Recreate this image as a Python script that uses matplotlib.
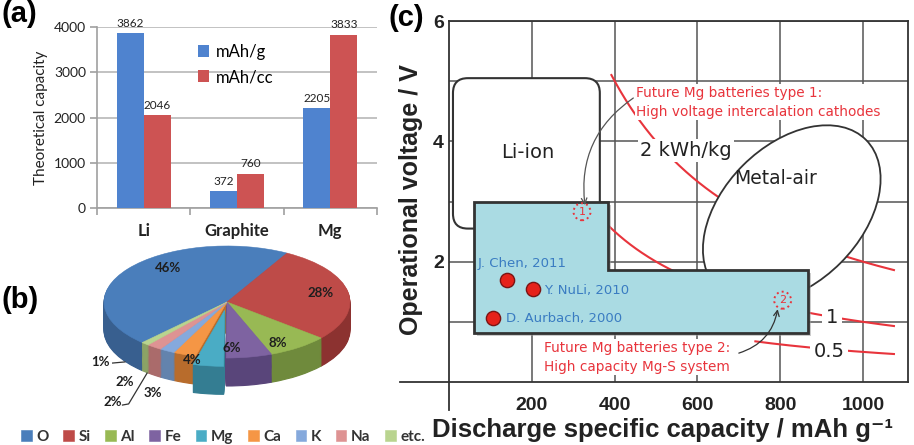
import numpy as np
import matplotlib
matplotlib.use('Agg')
import matplotlib.pyplot as plt
from matplotlib.patches import Polygon, FancyBboxPatch, Ellipse
import matplotlib.transforms as mtransforms

# ---------------- data ----------------
cap_categories = ['Li', 'Graphite', 'Mg']
cap_mAh_g = [3862, 372, 2205]
cap_mAh_cc = [2046, 760, 3833]
cap_yticks = [0, 1000, 2000, 3000, 4000]

crust_elements = ['O', 'Si', 'Al', 'Fe', 'Mg', 'Ca', 'K', 'Na', 'etc.']
crust_pct = [46, 28, 8, 6, 4, 3, 2, 2, 1]

energy_levels = [2, 1, 0.5]          # kWh/kg
energy_labels = ['2 kWh/kg', '1', '0.5']

studies = ['J. Chen, 2011', 'Y. NuLi, 2010', 'D. Aurbach, 2000']
study_capacity = [140, 202, 106]     # mAh/g
study_voltage = [1.69, 1.54, 1.06]   # V

c_xticks = [200, 400, 600, 800, 1000]
c_yticks = [2, 4, 6]

# ---------------- figure ----------------
W, H = 914, 445
fig = plt.figure(figsize=(W / 100, H / 100), dpi=100)
fig.patch.set_facecolor('white')


def px_axes(left, top, right, bottom):
    return fig.add_axes([left / W, 1 - bottom / H, (right - left) / W, (bottom - top) / H])


BOLD = ['Liberation Sans', 'DejaVu Sans']
SOFT = ['Lato', 'DejaVu Sans']

# ================= panel (a) =================
BLUE, RED = '#4f83cf', '#cd5353'
ax_a = px_axes(97, 27, 377, 208)
x = np.arange(len(cap_categories))
w = 0.29
b1 = ax_a.bar(x - w / 2, cap_mAh_g, w, color=BLUE, label='mAh/g', zorder=3)
b2 = ax_a.bar(x + w / 2, cap_mAh_cc, w, color=RED, label='mAh/cc', zorder=3)
ax_a.set_xlim(-0.5, 2.5)
ax_a.set_ylim(0, 4000)
ax_a.set_yticks(cap_yticks)
ax_a.set_yticklabels([str(v) for v in cap_yticks], family=SOFT, fontsize=10, color='#222')
ax_a.grid(axis='y', color='#b8b8b8', lw=1.2, zorder=0)
ax_a.set_axisbelow(True)
for s in ['top', 'right']:
    ax_a.spines[s].set_visible(False)
for s in ['left', 'bottom']:
    ax_a.spines[s].set_color('#a0a0a0')
    ax_a.spines[s].set_linewidth(1.2)
ax_a.set_xticks(x)
ax_a.set_xticklabels(cap_categories, family=SOFT, fontsize=12, fontweight='bold', color='#222')
ax_a.tick_params(axis='x', which='major', length=0, pad=11)
ax_a.set_xticks([-0.5, 0.5, 1.5, 2.5], minor=True)
ax_a.tick_params(axis='x', which='minor', length=5, color='#a0a0a0', width=1.2)
ax_a.tick_params(axis='y', length=5, color='#a0a0a0', width=1.2, pad=3)
ax_a.bar_label(b1, padding=3, fontsize=8.5, family=SOFT, color='#222')
ax_a.bar_label(b2, padding=3, fontsize=8.5, family=SOFT, color='#222')
ax_a.set_ylabel('Theoretical capacity', family=SOFT, fontsize=11, color='#222', labelpad=4)
ax_a.legend(loc='upper left', bbox_to_anchor=(198 / W, 1 - 44 / H), bbox_transform=fig.transFigure,
            frameon=False, prop={'family': SOFT, 'size': 12}, handlelength=0.65, handleheight=0.75,
            handletextpad=0.4, labelspacing=0.55, borderpad=0, borderaxespad=0)
fig.text(19 / W, 1 - 14 / H, '(a)', family=BOLD, fontsize=21, fontweight='bold', ha='center', va='center')

# ================= panel (b) =================
top_colors = ['#4a7ebb', '#be4b48', '#98b954', '#7e63a1', '#4aacc5', '#f59645', '#85a9dc', '#de9393', '#b9d48f']
side_colors = ['#385f8f', '#8c3230', '#6f8a3c', '#59457a', '#347d92', '#b86c2c', '#6383ad', '#aa6b6b', '#8ba366']
explode = [0.15 if e == 'Mg' else 0 for e in crust_elements]
ax_b = px_axes(60, 240, 380, 420)
# O/Si boundary sits at ~60.8 deg; slices run clockwise starting with O
start = 60.8 + 360 * crust_pct[0] / 100
depth = 0.5
for off in np.linspace(depth, 0.02, 30):
    wedges, _ = ax_b.pie(crust_pct, explode=explode, colors=side_colors, startangle=start,
                         counterclock=False, center=(0, -off), radius=1)
    for wd in wedges:
        wd.set_edgecolor(wd.get_facecolor())
        wd.set_linewidth(0.8)
top_wedges, _ = ax_b.pie(crust_pct, explode=explode, colors=top_colors, startangle=start,
                         counterclock=False, center=(0, 0), radius=1)
for wd in top_wedges:
    wd.set_edgecolor(wd.get_facecolor())
    wd.set_linewidth(0.4)
ax_b.set_aspect('auto')
ax_b.set_xlim(-1.358, 1.244)
ax_b.set_ylim(-2.107, 1.107)
ax_b.axis('off')

pct_pos = [(-0.48, 0.61), (0.76, 0.16), (0.41, -0.73), (0.04, -0.82), (-0.28, -1.04),
           (-0.60, -1.63), (-0.83, -1.43), (-0.93, -1.79), (-1.03, -1.07)]
for (px_, py_), v in zip(pct_pos, crust_pct):
    ax_b.text(px_, py_, f'{v}%', family=SOFT, fontsize=9.5, fontweight='bold', color='#1e1e1e',
              ha='center', va='center')
ax_b.plot([-0.93, -0.83], [-1.09, -1.07], color='#333', lw=0.9)
ax_b.plot([-0.85, -0.80, -0.65], [-1.84, -1.82, -1.27], color='#333', lw=0.9)
fig.legend(top_wedges, crust_elements, loc='center', bbox_to_anchor=(223 / W, 1 - 437 / H), ncol=9,
           frameon=False, prop={'family': SOFT, 'size': 11, 'weight': 'bold'}, handlelength=0.7,
           handleheight=0.75, handletextpad=0.3, columnspacing=0.95, borderpad=0, labelcolor='#333')
fig.text(20 / W, 1 - 300 / H, '(b)', family=BOLD, fontsize=21, fontweight='bold', ha='center', va='center')

# ================= panel (c) =================
ax_c = px_axes(449.25, 21, 908, 382)
XMAX = 1109
ax_c.set_xlim(0, XMAX)
ax_c.set_ylim(0, 6)
ax_c.set_xticks(c_xticks)
ax_c.set_xticklabels([str(v) for v in c_xticks], family=BOLD, fontsize=14, fontweight='bold', color='#222')
ax_c.set_yticks(c_yticks)
ax_c.set_yticklabels([str(v) for v in c_yticks], family=BOLD, fontsize=14, fontweight='bold', color='#222')
ax_c.set_yticks([1, 3, 5], minor=True)
ax_c.tick_params(which='both', length=0)
ax_c.tick_params(axis='x', pad=11)
ax_c.tick_params(axis='y', pad=4)
ax_c.grid(which='both', color='#555555', lw=1.1)
ax_c.set_axisbelow(True)
for s in ax_c.spines.values():
    s.set_color('#333')
    s.set_linewidth(1.3)
ax_c.plot([0, 0], [-0.47, 0], color='#333', lw=1.3, clip_on=False)
ax_c.plot([-119, 0], [0, 0], color='#333', lw=1.3, clip_on=False)

RC = '#e8343c'
# energy density curves
curve_start = [392, 385, 740]
for E, c0 in zip(energy_levels, curve_start):
    cc = np.linspace(c0, 1075, 300)
    ax_c.plot(cc, E * 1000 / cc, color=RC, lw=1.5, zorder=1.5)

lab_kw = dict(family=['DejaVu Sans'], color='#222', ha='center', va='center', zorder=3)
ax_c.text(572, 3.85, energy_labels[0], fontsize=14,
          bbox=dict(fc='white', ec='none', pad=1.5), **lab_kw)
ax_c.text(925, 1.08, energy_labels[1], fontsize=14,
          bbox=dict(fc='white', ec='none', pad=2.5), **lab_kw)
ax_c.text(918, 0.5, energy_labels[2], fontsize=14,
          bbox=dict(fc='white', ec='none', pad=2.5), **lab_kw)

# Li-ion box
aspect = (XMAX / 458.75) / (6 / 361)
li = FancyBboxPatch((9, 2.55), 355, 2.5, boxstyle='round,pad=0,rounding_size=36',
                    mutation_aspect=1 / aspect, fc='white', ec='#333', lw=1.5, zorder=2)
ax_c.add_patch(li)
ax_c.text(190, 3.82, 'Li-ion', fontsize=14, **lab_kw)

# Metal-air ellipse (drawn in pixel space around a data-space centre)
ell = Ellipse((0, 0), 210, 138, angle=45, fc='white', ec='#333', lw=1.3, zorder=2.5,
              transform=mtransforms.ScaledTranslation(828, 2.79, ax_c.transData))
ax_c.add_patch(ell)
ax_c.text(790, 3.39, 'Metal-air', fontsize=13.5, **lab_kw)

# Mg region (cyan L-shape)
mg_verts = [(60, 3.0), (383, 3.0), (383, 1.86), (868, 1.86), (868, 0.81), (60, 0.81)]
shadow = Polygon(mg_verts, closed=True, fc='#9a9a9a', ec='none', alpha=0.5, zorder=3.5,
                 transform=mtransforms.offset_copy(ax_c.transData, fig=fig, x=3, y=-3, units='dots'))
ax_c.add_patch(shadow)
ax_c.add_patch(Polygon(mg_verts, closed=True, fc='#aadbe3', ec='#333', lw=2, zorder=4))

# studies
ax_c.scatter(study_capacity, study_voltage, s=105, c='#e5221b', edgecolors='#7a1414', linewidths=1,
             zorder=6)
offsets = [(-21, 12), (8, -1), (9, 0)]
for name, cx, cy, off in zip(studies, study_capacity, study_voltage, offsets):
    ax_c.annotate(name, (cx, cy), xytext=off, textcoords='offset points', family=['DejaVu Sans'],
                  fontsize=9.5, color='#3a7cc2', ha='left', va='center', zorder=6)

# future type markers
for num, cx, cy in [('1', 321, 2.83), ('2', 806, 1.36)]:
    ax_c.add_patch(Ellipse((0, 0), 17, 17, fill=False, ec=RC, ls=':', lw=1.4, zorder=6,
                           transform=mtransforms.ScaledTranslation(cx, cy, ax_c.transData)))
    ax_c.text(cx, cy, num, color=RC, fontsize=8, ha='center', va='center', zorder=6,
              family=['DejaVu Sans'])

ax_c.text(452, 4.65, 'Future Mg batteries type 1:\nHigh voltage intercalation cathodes', color=RC,
          fontsize=9.8, family=['DejaVu Sans'], ha='left', va='center', linespacing=1.45, zorder=3,
          bbox=dict(fc='white', ec='none', pad=1))
ax_c.text(229, 0.415, 'Future Mg batteries type 2:\nHigh capacity Mg-S system', color=RC,
          fontsize=9.8, family=['DejaVu Sans'], ha='left', va='center', linespacing=1.45, zorder=3,
          bbox=dict(fc='white', ec='none', pad=1))
ax_c.annotate('', xy=(328, 2.94), xytext=(445, 4.72),
              arrowprops=dict(arrowstyle='->', color='#555', lw=0.9, shrinkA=0, shrinkB=0,
                              connectionstyle='arc3,rad=0.3'), zorder=7)
ax_c.annotate('', xy=(794, 1.21), xytext=(700, 0.48),
              arrowprops=dict(arrowstyle='->', color='#333', lw=0.9, shrinkA=0, shrinkB=0,
                              connectionstyle='arc3,rad=0.3'), zorder=7)

fig.text(662 / W, 1 - 430 / H, 'Discharge specific capacity / mAh g\u207b\u00b9', family=BOLD,
         fontsize=18.5, fontweight='bold', color='#222', ha='center', va='center')
fig.text(411 / W, 1 - 200 / H, 'Operational voltage / V', family=BOLD, fontsize=18,
         fontweight='bold', color='#222', ha='center', va='center', rotation=90)
fig.text(406 / W, 1 - 18 / H, '(c)', family=BOLD, fontsize=21, fontweight='bold', ha='center',
         va='center')

fig.savefig('out.png', dpi=100)
